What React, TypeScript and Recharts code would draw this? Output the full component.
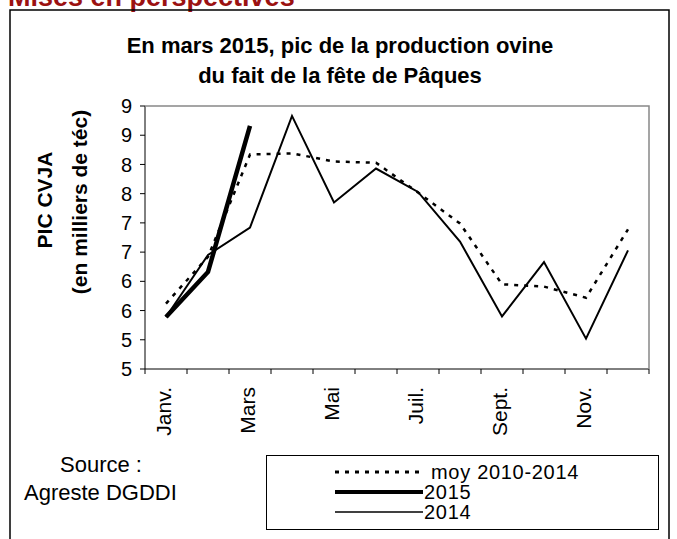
import React from "react"
import { LineChart, Line, XAxis, YAxis, Legend } from "recharts"

// months (every other label is shown on the axis)
const months = ["Janv.", "Févr.", "Mars", "Avr.", "Mai", "Juin", "Juil.", "Août", "Sept.", "Oct.", "Nov.", "Déc."]
const shownMonths = ["Janv.", "Mars", "Mai", "Juil.", "Sept.", "Nov."]

// values in milliers de téc
const moy = [5.62, 6.42, 8.17, 8.19, 8.05, 8.03, 7.52, 6.99, 5.95, 5.91, 5.72, 6.89]
const v2015 = [5.39, 6.16, 8.66, null, null, null, null, null, null, null, null, null]
const v2014 = [5.39, 6.45, 6.92, 8.83, 7.35, 7.93, 7.53, 6.68, 5.4, 6.33, 5.02, 6.53]

const yTicks = [4.5, 5, 5.5, 6, 6.5, 7, 7.5, 8, 8.5, 9]

const W = 677
const H = 539
const PLOT = { left: 145, top: 106, right: 649, bottom: 369 }
const X_AXIS_H = 60
const Y_AXIS_W = 40
const FONT = "'Liberation Sans', Arial, sans-serif"

const data = months.map((m, i) => ({
  month: m,
  moy: moy[i],
  y2015: v2015[i],
  y2014: v2014[i],
}))

function MonthTick(props: any) {
  const { x, y, payload, index } = props
  const half = (PLOT.right - PLOT.left) / months.length / 2
  const label = shownMonths.includes(payload.value) ? payload.value : ""
  return (
    <g>
      <line x1={x - half} x2={x - half} y1={y - 5} y2={y} stroke="#000" />
      {index === months.length - 1 && (
        <line x1={x + half} x2={x + half} y1={y - 5} y2={y} stroke="#000" />
      )}
      {label && (
        <text
          x={0}
          y={0}
          transform={`translate(${x + 5},${y + 13}) rotate(-90)`}
          textAnchor="end"
          fontFamily={FONT}
          fontSize={21}
          fill="#000"
        >
          {label}
        </text>
      )}
    </g>
  )
}

const legendItems = [
  { name: "moy 2010-2014", width: 3, dash: "4 6" },
  { name: "2015", width: 4, dash: undefined },
  { name: "2014", width: 1.5, dash: undefined },
]

function BoxLegend() {
  return (
    <div
      style={{
        border: "1px solid #000",
        width: 393,
        height: 75,
        boxSizing: "border-box",
        fontFamily: FONT,
        fontSize: 20,
        paddingTop: 6,
      }}
    >
      {legendItems.map((it) => (
        <div key={it.name} style={{ display: "flex", alignItems: "center", height: 20, marginLeft: 68 }}>
          <svg width={88} height={10} style={{ display: "block" }}>
            <line x1={0} x2={88} y1={5} y2={5} stroke="#000" strokeWidth={it.width} strokeDasharray={it.dash} />
          </svg>
          <span style={{ marginLeft: it.dash ? 8 : 1, lineHeight: "20px", letterSpacing: 0.7 }}>{it.name}</span>
        </div>
      ))}
    </div>
  )
}

export default function App() {
  return (
    <div style={{ position: "fixed", left: 0, top: 0, width: W, height: H, background: "#fff" }}>
      <LineChart
        width={W}
        height={H}
        data={data}
        margin={{
          top: PLOT.top,
          left: PLOT.left - Y_AXIS_W,
          right: W - PLOT.right,
          bottom: H - PLOT.bottom - X_AXIS_H,
        }}
      >
        <XAxis
          dataKey="month"
          scale="band"
          interval={0}
          height={X_AXIS_H}
          tickSize={5}
          tickMargin={0}
          tickLine={false}
          axisLine={{ stroke: "#000" }}
          tick={<MonthTick />}
        />
        <YAxis
          domain={[4.5, 9]}
          ticks={yTicks}
          width={Y_AXIS_W}
          tickSize={5}
          tickMargin={8}
          interval={0}
          tickFormatter={(v: number) => String(Math.round(v))}
          tick={{ fill: "#000", fontSize: 20, fontFamily: FONT }}
          tickLine={{ stroke: "#000" }}
          axisLine={{ stroke: "#000" }}
        />
        <Legend
          layout="vertical"
          verticalAlign="middle"
          align="center"
          content={<BoxLegend />}
          wrapperStyle={{ position: "absolute", left: 266, top: 455, width: 393, height: 75 }}
        />
        <Line
          dataKey="moy"
          name="moy 2010-2014"
          stroke="#000"
          strokeWidth={2.5}
          strokeDasharray="4 6"
          dot={false}
          isAnimationActive={false}
        />
        <Line
          dataKey="y2014"
          name="2014"
          stroke="#000"
          strokeWidth={2}
          dot={false}
          isAnimationActive={false}
        />
        <Line
          dataKey="y2015"
          name="2015"
          stroke="#000"
          strokeWidth={4.5}
          dot={false}
          isAnimationActive={false}
        />
      </LineChart>

      <svg
        width={W}
        height={H}
        style={{ position: "absolute", left: 0, top: 0, pointerEvents: "none" }}
        fontFamily={FONT}
      >
        <text x={8} y={6} fontSize={27} fontWeight="bold" fill="#9b1111">
          Mises en perspectives
        </text>
        <polyline points={`10,${H} 10,10 669,10 669,${H}`} fill="none" stroke="#000" strokeWidth={1.5} />
        {/* gray top/right frame of the plot */}
        <polyline
          points={`${PLOT.left},${PLOT.top} ${PLOT.right},${PLOT.top} ${PLOT.right},${PLOT.bottom}`}
          fill="none"
          stroke="#888"
          strokeWidth={1.5}
        />
        <text x={340} y={53} textAnchor="middle" fontSize={22} fontWeight="bold">
          En mars 2015, pic de la production ovine
        </text>
        <text x={340} y={83} textAnchor="middle" fontSize={22} fontWeight="bold">
          du fait de la fête de Pâques
        </text>
        <text transform="translate(52,200) rotate(-90)" textAnchor="middle" fontSize={21} fontWeight="bold">
          PIC CVJA
        </text>
        <text transform="translate(87,202) rotate(-90)" textAnchor="middle" fontSize={21} fontWeight="bold">
          (en milliers de téc)
        </text>
        <text x={60} y={472} fontSize={22}>
          Source :
        </text>
        <text x={24} y={500} fontSize={22}>
          Agreste DGDDI
        </text>
      </svg>
    </div>
  )
}
